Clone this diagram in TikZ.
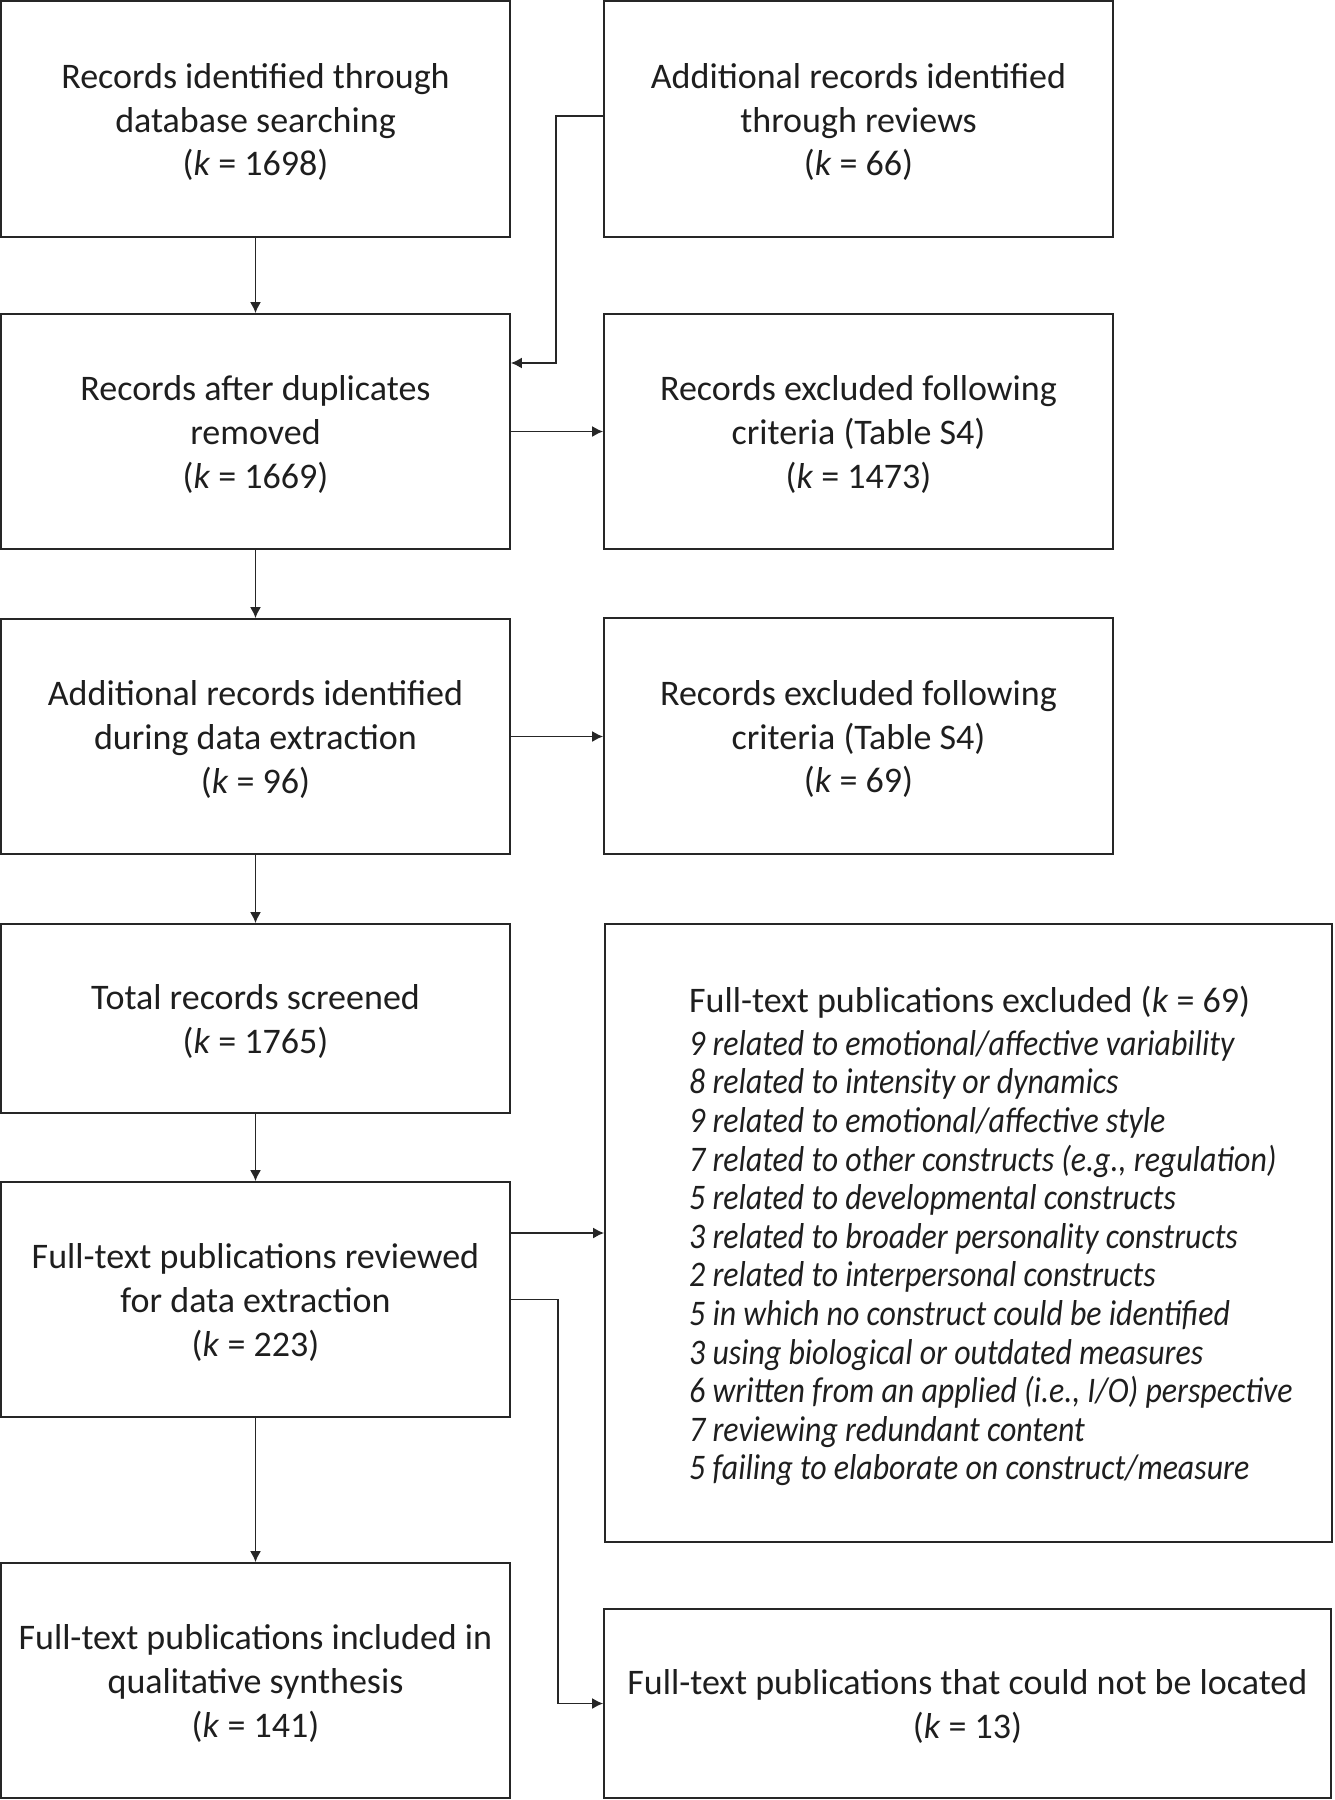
\documentclass[tikz,border=0pt]{standalone}
\usepackage{fontspec}
\setmainfont{Carlito}
\newfontfamily\condit{Carlito}[FakeStretch=0.885]
\usetikzlibrary{arrows.meta}
\definecolor{ln}{HTML}{262626}
\definecolor{tx}{HTML}{1E1E1E}
\newcommand\boxnode[5]{%
  \node[frame, minimum width=#3, minimum height=#4] (#1) at (#2) {};
  \node[txt] (#1t) at ([yshift=-3pt]#1.center) {#5};}
\begin{document}
\begin{tikzpicture}[x=1pt,y=-1pt,
  frame/.style={draw=ln, line width=1.7pt, inner sep=0pt},
  txt/.style={align=center, text=tx, inner sep=0pt,
    font=\fontsize{36}{43.6}\selectfont},
  arr/.style={draw=ln, line width=1.7pt, -{Latex[length=11pt,width=11pt]}}]
\useasboundingbox (0,0) rectangle (1334,1800);
\boxnode{A}{255.5,119}{509}{236}
  {Records identified through\\database searching\\(\textit{k} = 1698)}
\boxnode{B}{858.5,119}{509}{236}
  {Additional records identified\\through reviews\\(\textit{k} = 66)}
\boxnode{C}{255.5,431.5}{509}{235}
  {Records after duplicates\\removed\\(\textit{k} = 1669)}
\boxnode{D}{858.5,431.5}{509}{235}
  {Records excluded following\\criteria (Table S4)\\(\textit{k} = 1473)}
\boxnode{E}{255.5,736.5}{509}{235}
  {Additional records identified\\during data extraction\\(\textit{k} = 96)}
\boxnode{F}{858.5,736}{509}{236}
  {Records excluded following\\criteria (Table S4)\\(\textit{k} = 69)}
\boxnode{G}{255.5,1018.5}{509}{189}
  {Total records screened\\(\textit{k} = 1765)}
\boxnode{H}{255.5,1299.5}{509}{235}
  {Full-text publications reviewed\\for data extraction\\(\textit{k} = 223)}
\node[frame, minimum width=727, minimum height=618] (I) at (968.5,1233) {};
\node[anchor=west, align=left, text=tx, inner sep=0pt,
  font=\fontsize{36}{38.6}\selectfont] (It) at (689,1236)
  {Full-text publications excluded (\textit{k} = 69)\\[4.5pt]
   {\condit\itshape 9 related to emotional/affective variability}\\
   {\condit\itshape 8 related to intensity or dynamics}\\
   {\condit\itshape 9 related to emotional/affective style}\\
   {\condit\itshape 7 related to other constructs (e.g., regulation)}\\
   {\condit\itshape 5 related to developmental constructs}\\
   {\condit\itshape 3 related to broader personality constructs}\\
   {\condit\itshape 2 related to interpersonal constructs}\\
   {\condit\itshape 5 in which no construct could be identified}\\
   {\condit\itshape 3 using biological or outdated measures}\\
   {\condit\itshape 6 written from an applied (i.e., I/O) perspective}\\
   {\condit\itshape 7 reviewing redundant content}\\
   {\condit\itshape 5 failing to elaborate on construct/measure}};
\boxnode{J}{255.5,1680.5}{509}{235}
  {Full-text publications included in\\qualitative synthesis\\(\textit{k} = 141)}
\boxnode{K}{967.5,1703.5}{727}{189}
  {Full-text publications that could not be located\\(\textit{k} = 13)}
% connectors
\draw[arr] (A.south) -- (C.north);
\draw[arr] ([yshift=3pt]B.west) -- ++(-47,0) |- ([yshift=68.5pt]C.east);
\draw[arr] (C.east) -- (D.west);
\draw[arr] (C.south) -- (E.north);
\draw[arr] (E.east) -- (E.east -| F.west);
\draw[arr] (E.south) -- (G.north);
\draw[arr] (G.south) -- (H.north);
\draw[arr] (H.east |- I.west) -- (I.west);
\draw[arr] (H.east) -- ++(47,0) |- (K.west);
\draw[arr] (H.south) -- (J.north);
\end{tikzpicture}
\end{document}
